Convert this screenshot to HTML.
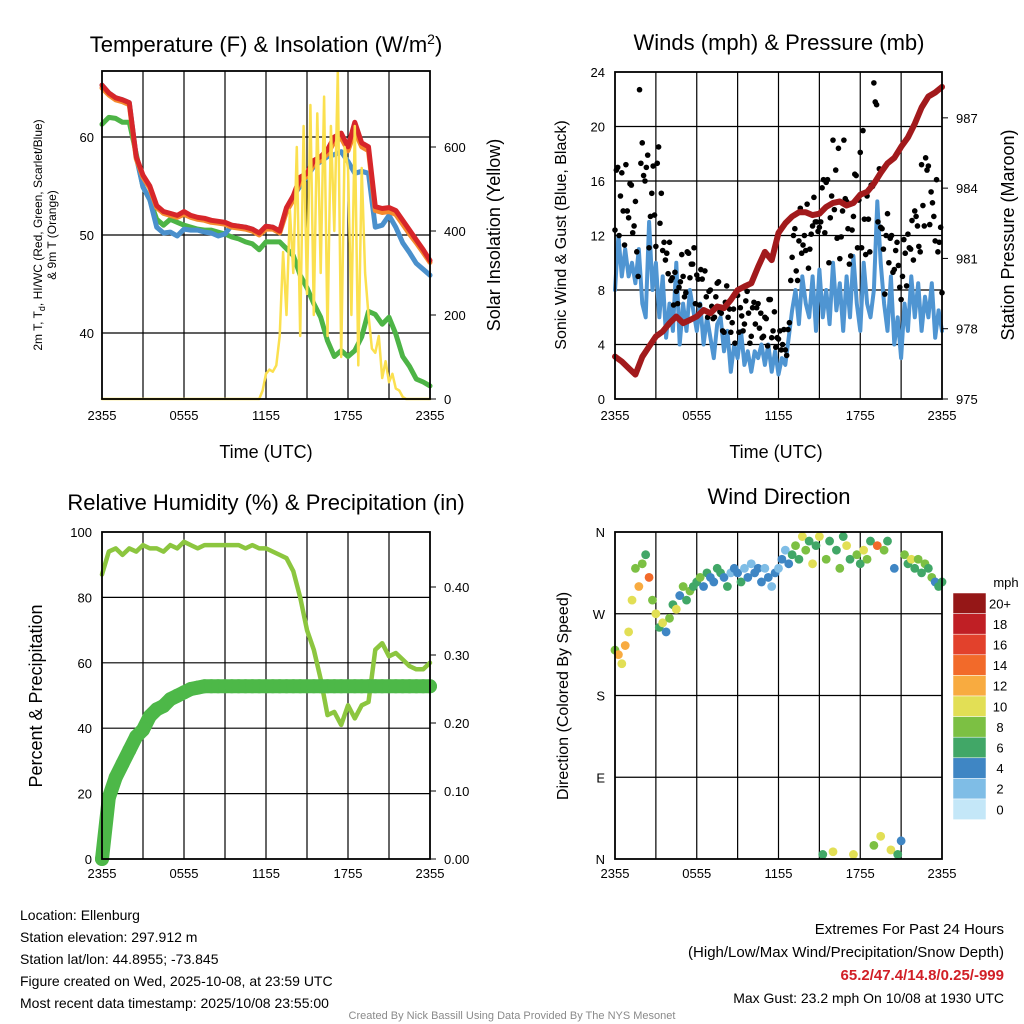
<!DOCTYPE html>
<html><head><meta charset="utf-8">
<style>
body{margin:0;background:#fff;}
svg{display:block;font-family:"Liberation Sans",sans-serif;}
</style></head>
<body>
<svg id="chart" width="1024" height="1024" viewBox="0 0 1024 1024" xmlns="http://www.w3.org/2000/svg">
<rect width="1024" height="1024" fill="#fff"/>
<g id="layer"></g>
</svg>
<script>
// ---------- DATA ----------
const xTickLabels = ["2355","0555","1155","1755","2355"];
// temperature panel (0.5 h steps)
const tempT = [65.3,64.5,64.0,63.8,63.5,58.0,56.1,55.0,53.0,52.4,52.2,52.0,52.4,52.0,51.8,51.7,51.5,51.4,51.3,51.0,50.9,50.8,50.6,50.2,50.9,50.8,50.4,52.8,54.0,55.9,56.3,57.6,58.0,58.7,60.0,60.4,59.0,61.5,59.4,59.0,52.9,52.7,52.8,52.5,51.5,50.5,49.5,48.5,47.4];
const temp9m = [65.0,64.3,63.8,63.6,63.3,57.8,55.9,54.8,52.8,52.2,52.0,51.8,52.1,51.8,51.6,51.5,51.3,51.2,51.1,50.8,50.7,50.6,50.4,50.0,50.6,50.6,50.2,52.4,53.6,55.5,56.0,57.2,57.6,58.3,59.5,59.9,58.6,60.6,59.0,58.6,52.5,52.3,52.4,52.1,51.1,50.1,49.2,48.2,47.2];
const tempHIWC = [65.3,64.5,64.0,63.8,63.5,58.0,54.9,53.6,50.8,50.2,50.3,49.9,50.6,50.5,50.5,50.3,50.2,49.9,50.1,51.0,50.9,50.8,50.6,50.2,50.9,50.8,50.4,52.5,54.0,55.0,56.0,57.0,57.5,58.0,58.2,58.5,57.5,56.3,56.5,56.3,50.8,51.0,52.0,50.8,49.2,48.2,47.1,46.5,45.9];
const tempTd = [61.3,62.0,61.9,61.5,61.5,58.3,54.9,53.6,51.6,51.0,51.6,51.3,51.0,50.8,50.6,50.5,50.5,50.3,50.1,49.8,49.6,49.3,49.1,48.5,49.3,49.3,49.3,48.6,47.9,45.9,44.6,43.0,41.6,39.2,37.6,38.2,37.6,38.2,39.6,42.2,41.9,40.9,41.6,39.9,37.6,36.6,35.3,35.0,34.6];
// solar (0.25 h steps)
const solar = [0,0,0,0,0,0,0,0,0,0,0,0,0,0,0,0,0,0,0,0,0,0,0,0,0,0,0,0,0,0,0,0,0,0,0,0,0,0,0,0,0,0,0,0,0,0,0,
20,60,70,65,80,150,350,200,450,300,600,150,650,250,700,200,680,300,720,150,650,400,780,100,600,550,200,650,80,550,300,200,120,110,150,50,90,40,60,25,20,5,
0,0,0,0,0,0,0,0];
// winds panel
const pressure = [976.81,976.60,976.32,976.04,976.80,977.24,977.67,977.88,978.24,978.52,978.24,978.37,978.52,978.80,978.66,978.95,978.88,979.23,979.65,979.80,979.94,980.64,981.28,980.93,982.09,982.50,982.79,982.97,982.97,982.85,982.91,983.20,983.37,983.43,983.26,983.37,983.72,983.84,984.19,984.65,985.06,985.29,985.76,986.16,986.75,987.44,987.91,988.08,988.32];
const sonicWind = [8,12,9,11,9,10,8.5,11,7,6,13,8,10,6,9,4.5,7,5,10,4,7,5,8,6.5,5,7,4,6,4.5,3,5.5,6,3.5,5,2,4,3,5,2.5,3.5,2,3.5,3,4,2.5,4,2,3.5,1.8,3,2.5,4.5,6.5,8,5.5,9,7,6,9,5,9.5,6,8,5.5,10,6.5,8.5,5,9,6,10.5,7,5,10,7,6,8,14.5,10,7,5,9,4,6,3,7,5,9,6,8.5,5,7.5,6,8.5,4.5,6.5,5];
const gust = [12.4,17.0,14.9,13.8,17.2,13.3,15.7,12.7,10.8,22.7,18.8,16.0,17.9,13.4,17.1,11.2,18.5,15.1,11.5,10.7,11.5,8.9,9.3,7.0,8.6,9.0,7.8,10.7,9.9,11.1,9.1,6.9,8.8,9.4,6.0,8.0,5.9,7.5,8.6,6.3,4.9,8.3,6.6,5.6,4.1,7.6,6.7,5.0,7.2,6.3,4.6,7.1,6.7,5.2,4.5,6.0,3.9,7.3,5.0,3.8,4.4,3.6,5.1,3.2,5.6,10.4,12.5,8.7,14.0,11.3,10.9,9.6,12.1,14.8,13.0,12.6,15.5,12.2,16.1,13.3,19.0,16.8,18.4,11.9,19.0,14.5,9.9,12.4,16.5,11.1,18.1,19.7,10.6,13.2,15.7,23.2,21.6,16.9,12.5,7.7,13.6,11.8,9.3,10.9,9.8,7.3,11.7,8.3,11.1,13.1,13.8,12.7,10.8,14.2,17.7,17.1,15.2,13.4,16.1,11.5,7.8];
// second set of gusts at offset times (0.1 + 0.2 i h)
const gustB = [16.8,12.0,16.6,11.3,13.8,15.8,12.2,14.5,9.0,17.3,16.4,17.0,11.1,15.1,13.5,17.3,12.9,10.9,10.2,9.2,8.7,6.9,7.9,8.2,10.6,7.5,10.8,8.9,9.9,7.0,8.8,9.5,6.5,7.5,7.9,6.8,6.0,8.5,6.4,5.0,7.1,6.0,4.9,6.6,7.8,4.9,6.1,5.5,7.9,4.1,6.7,5.5,7.0,6.3,4.6,5.9,7.3,4.5,6.4,4.5,5.0,4.0,3.6,5.1,8.7,12.0,9.4,11.6,10.7,12.0,14.3,11.0,12.7,13.0,12.3,13.0,16.1,15.9,10.0,14.9,13.9,11.8,10.3,13.8,14.7,12.5,10.5,13.4,16.4,14.6,11.1,13.2,14.9,10.8,15.6,21.8,13.0,12.6,11.0,12.0,10.0,12.0,9.5,11.5,8.2,9.0,10.7,12.1,11.0,10.2,13.4,11.2,17.2,12.7,16.8,12.8,14.4,11.6,10.8,12.6];
// humidity panel (0.5 h)
const rh = [87,94,95,93,95,94,96,95,95,94,96,95,97,96,95,96,96,96,96,96,96,95,96,95,95,94,93,92,88,80,70,64,55,44,45,41,47,43,47,48,64,66,62,63,61,59,58,58,60];
const precip = [0,0.09,0.12,0.14,0.16,0.18,0.19,0.21,0.22,0.225,0.235,0.24,0.245,0.25,0.252,0.254,0.254,0.254,0.254,0.254,0.254,0.254,0.254,0.254,0.254,0.254,0.254,0.254,0.254,0.254,0.254,0.254,0.254,0.254,0.254,0.254,0.254,0.254,0.254,0.254,0.254,0.254,0.254,0.254,0.254,0.254,0.254,0.254,0.254];
// wind direction (0.25 h) — colored by sonicWind
const windDir = [230,225,215,235,250,285,320,300,325,335,310,285,270,255,260,250,265,280,275,290,300,285,295,300,305,310,300,315,310,305,320,315,310,300,315,320,315,305,320,310,325,315,320,305,320,310,300,315,320,330,340,325,335,345,330,355,340,350,325,345,355,5,330,350,8,340,320,355,345,330,5,335,325,340,330,350,15,345,25,340,350,10,320,5,20,335,325,330,320,330,315,325,320,310,305,300,305];
const speedLabels = ["20+","18","16","14","12","10","8","6","4","2","0"];
const speedColors = ["#951717","#c01f25","#e2412c","#f26a2a","#f8ab40","#e2df55","#7cc043","#41a767","#3f86c4","#7fbde6","#c4e7f8"];

// ---------- helpers ----------
const NS="http://www.w3.org/2000/svg";
const layer=document.getElementById('layer');
function mk(tag,attrs,parent){const e=document.createElementNS(NS,tag);for(const k in attrs)e.setAttribute(k,attrs[k]);(parent||layer).appendChild(e);return e;}
function txt(x,y,s,size,anchor,parent,extra){const e=mk('text',Object.assign({x:x,y:y,'font-size':size,'text-anchor':anchor||'middle',fill:'#000'},extra||{}),parent);e.textContent=s;return e;}
function panelFrame(g,x0,x1,y0,y1,hLines){
  for(let h=3;h<24;h+=3){const x=x0+(x1-x0)*h/24;mk('line',{x1:x,x2:x,y1:y0,y2:y1,stroke:'#000','stroke-width':1.2},g);}
  hLines.forEach(y=>mk('line',{x1:x0,x2:x1,y1:y,y2:y,stroke:'#000','stroke-width':1.2},g));
}
function frame(g,x0,x1,y0,y1){mk('rect',{x:x0,y:y0,width:x1-x0,height:y1-y0,fill:'none',stroke:'#000','stroke-width':1.8},g);}
function xTicks(g,x0,x1,y1,ly){
  xTickLabels.forEach((s,i)=>{const x=x0+(x1-x0)*i/4;const t=txt(x,ly,s,13,'middle',g);
  
  });
}
function poly(g,pts,attrs){return mk('polyline',Object.assign({points:pts.map(p=>p[0].toFixed(1)+','+p[1].toFixed(1)).join(' '),fill:'none','stroke-linejoin':'round','stroke-linecap':'round'},attrs),g);}

// ---------- Panel 1: Temperature ----------
(function(){
  const g=mk('g',{});
  
  
  const X0=102,X1=430,Y0=71,Y1=399;
  const xs=h=>X0+(X1-X0)*h/24;
  const yT=v=>137+(60-v)*9.8;
  const yS=v=>399-v*0.42;
  panelFrame(g,X0,X1,Y0,Y1,[yT(60),yT(50),yT(40)]);
  const series=[[tempTd,'#4db446','dewpoint-line'],[tempHIWC,'#4a90cc','heat-index-windchill-line'],[temp9m,'#f58a2e','temp-9m-line'],[tempT,'#d7262a','temp-2m-line']];
  series.forEach(s=>{const l=poly(g,s[0].map((v,i)=>[xs(i*0.5),yT(v)]),{stroke:s[1],'stroke-width':5});
    
    });
  const sl=poly(g,solar.map((v,i)=>[xs(i*0.25),yS(v)]),{stroke:'#fbe04f','stroke-width':2.5});
  
  
  frame(g,X0,X1,Y0,Y1);
  [60,50,40].forEach(v=>{const t=txt(X0-8,yT(v)+5,String(v),13,'end',g);
    
    });
  [0,200,400,600].forEach(v=>{mk('line',{x1:X1,x2:X1+6,y1:yS(v),y2:yS(v),stroke:'#000'},g);const t=txt(X1+14,yS(v)+5,String(v),13,'start',g);
    
    });
  xTicks(g,X0,X1,Y1,420);
  const t1=txt(266,52,'',22,'middle',g);t1.innerHTML='Temperature (F) &amp; Insolation (W/m<tspan dy="-8" font-size="14">2</tspan><tspan dy="8">)</tspan>';
  
  
  const xt=txt(266,458,'Time (UTC)',18,'middle',g);
  
  
  const a=txt(0,0,'',12,'middle',g,{transform:'translate(42,235) rotate(-90)'});
  a.innerHTML='2m T, T<tspan dy="3" font-size="9">d</tspan><tspan dy="-3">, HI/WC (Red, Green, Scarlet/Blue)</tspan>';
  
  
  const a2=txt(0,0,'& 9m T (Orange)',12,'middle',g,{transform:'translate(56,235) rotate(-90)'});
  
  
  const r=txt(0,0,'Solar Insolation (Yellow)',18,'middle',g,{transform:'translate(500,235) rotate(-90)'});
  
  
})();

// ---------- Panel 2: Winds ----------
(function(){
  const g=mk('g',{});
  
  
  const X0=615,X1=942,Y0=72,Y1=399;
  const xs=h=>X0+(X1-X0)*h/24;
  const yW=v=>Y1-v*(Y1-Y0)/24;
  const yP=p=>Y1-(p-975)*23.43;
  panelFrame(g,X0,X1,Y0,Y1,[4,8,12,16,20].map(yW));
  const sw=poly(g,sonicWind.map((v,i)=>[xs(i*0.25),yW(v)]),{stroke:'#4f95d2','stroke-width':4});
  
  
  gust.forEach((v,i)=>{const c=mk('circle',{cx:xs(i*0.2),cy:yW(v),r:2.8,fill:'#000'},g);
    
    });
  gustB.forEach((v,i)=>{const c=mk('circle',{cx:xs(0.1+i*0.2),cy:yW(v),r:2.8,fill:'#000'},g);
    
    });
  const pl=poly(g,pressure.map((v,i)=>[xs(i*0.5),yP(v)]),{stroke:'#a21a1c','stroke-width':6});
  
  
  frame(g,X0,X1,Y0,Y1);
  [0,4,8,12,16,20,24].forEach(v=>{const t=txt(X0-10,yW(v)+5,String(v),13,'end',g);
    
    });
  [975,978,981,984,987].forEach(v=>{mk('line',{x1:X1,x2:X1+6,y1:yP(v),y2:yP(v),stroke:'#000'},g);const t=txt(X1+14,yP(v)+5,String(v),13,'start',g);
    
    });
  xTicks(g,X0,X1,Y1,420);
  const t1=txt(779,50,'Winds (mph) & Pressure (mb)',22,'middle',g);
  
  
  const xt=txt(776,458,'Time (UTC)',18,'middle',g);
  
  
  const a=txt(0,0,'Sonic Wind & Gust (Blue, Black)',16,'middle',g,{transform:'translate(566,235) rotate(-90)'});
  
  
  const r=txt(0,0,'Station Pressure (Maroon)',18,'middle',g,{transform:'translate(1014,235) rotate(-90)'});
  
  
})();

// ---------- Panel 3: RH & precip ----------
(function(){
  const g=mk('g',{});
  
  
  const X0=102,X1=430,Y0=532,Y1=859;
  const xs=h=>X0+(X1-X0)*h/24;
  const yR=v=>Y1-v*3.27;
  const yP=v=>Y1-v*680;
  panelFrame(g,X0,X1,Y0,Y1,[20,40,60,80].map(yR));
  const rl=poly(g,rh.map((v,i)=>[xs(i*0.5),yR(v)]),{stroke:'#8cc63f','stroke-width':4.5});
  
  
  const pp=poly(g,precip.map((v,i)=>[xs(i*0.5),yP(v)]),{stroke:'#4db848','stroke-width':14});
  
  
  precip.forEach((v,i)=>{const c=mk('circle',{cx:xs(i*0.5),cy:yP(v),r:7,fill:'#4db848'},g);
    
    });
  frame(g,X0,X1,Y0,Y1);
  [0,20,40,60,80,100].forEach(v=>{const t=txt(X0-10,yR(v)+5,String(v),13,'end',g);
    
    });
  ["0.00","0.10","0.20","0.30","0.40"].forEach(s=>{const v=parseFloat(s);mk('line',{x1:X1,x2:X1+6,y1:yP(v),y2:yP(v),stroke:'#000'},g);const t=txt(X1+14,yP(v)+5,s,13,'start',g);
    
    });
  xTicks(g,X0,X1,Y1,878);
  const t1=txt(266,510,'Relative Humidity (%) & Precipitation (in)',22,'middle',g);
  
  
  const a=txt(0,0,'Percent & Precipitation',18,'middle',g,{transform:'translate(42,696) rotate(-90)'});
  
  
})();

// ---------- Panel 4: Wind direction ----------
(function(){
  const g=mk('g',{});
  
  
  const X0=615,X1=942,Y0=532,Y1=859;
  const xs=h=>X0+(X1-X0)*h/24;
  const yD=d=>Y1-d*(Y1-Y0)/360;
  panelFrame(g,X0,X1,Y0,Y1,[90,180,270].map(yD));
  function col(s){let idx=Math.round(s/2);if(idx>10)idx=10;if(idx<0)idx=0;return speedColors[10-idx];}
  windDir.forEach((d,i)=>{const c=mk('circle',{cx:xs(i*0.25),cy:yD(d),r:4.4,fill:col(sonicWind[i])},g);
    
    });
  frame(g,X0,X1,Y0,Y1);
  [["N",360],["W",270],["S",180],["E",90],["N",0]].forEach(p=>{const t=txt(X0-10,yD(p[1])+5,p[0],13,'end',g);
    
    });
  xTicks(g,X0,X1,Y1,878);
  const t1=txt(779,504,'Wind Direction',22,'middle',g);
  
  
  const a=txt(0,0,'Direction (Colored By Speed)',16,'middle',g,{transform:'translate(568,696) rotate(-90)'});
  
  
  const cb=mk('g',{},g);
  
  
  const bh=20.6;
  speedColors.forEach((c,i)=>{mk('rect',{x:953,y:593+i*bh,width:33,height:bh,fill:c,stroke:'#fff','stroke-width':0.5},cb);
    const t=txt(1000,593+i*bh+bh/2+5,speedLabels[i],13,'middle',cb);
    
    });
  const m=txt(1006,587,'mph',13,'middle',cb);
  
  
})();

// ---------- footer ----------
(function(){
  const g=mk('g',{});
  
  
  ["Location: Ellenburg","Station elevation: 297.912 m","Station lat/lon: 44.8955; -73.845","Figure created on Wed, 2025-10-08, at 23:59 UTC","Most recent data timestamp: 2025/10/08 23:55:00"].forEach((s,i)=>{
    const t=txt(20,920+i*22,s,14,'start',g);
    
    });
  const g2=mk('g',{});
  
  
  const l1=txt(1004,934,'Extremes For Past 24 Hours',15,'end',g2);
  
  
  const l2=txt(1004,957,'(High/Low/Max Wind/Precipitation/Snow Depth)',15,'end',g2);
  
  
  const l3=txt(1004,980,'65.2/47.4/14.8/0.25/-999',15,'end',g2,{fill:'#d11f26','font-weight':'bold'});
  
  
  const l4=txt(1004,1003,'Max Gust: 23.2 mph On 10/08 at 1930 UTC',14,'end',g2);
  
  
  const c=txt(512,1019,'Created By Nick Bassill Using Data Provided By The NYS Mesonet',11,'middle',null,{fill:'#8a8a8a'});
  
  
})();
</script>
</body></html>
